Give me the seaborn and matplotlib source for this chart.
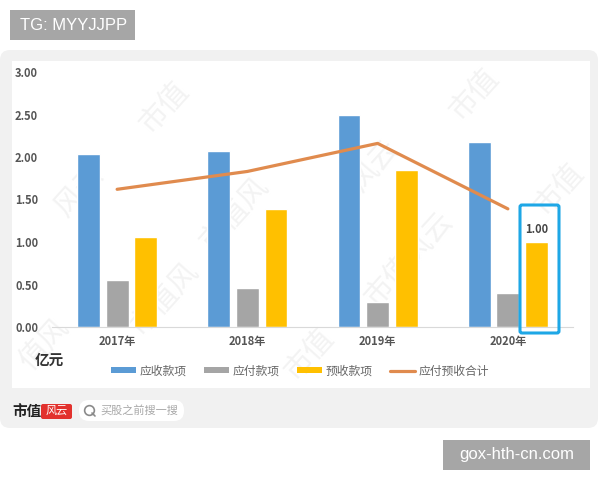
import numpy as np
import pandas as pd
import matplotlib
matplotlib.use('Agg')
import matplotlib.pyplot as plt
from matplotlib.patches import Rectangle, FancyBboxPatch
from matplotlib.lines import Line2D
import seaborn as sns

years = ['2017年', '2018年', '2019年', '2020年']
receivable = [2.03, 2.07, 2.49, 2.18]
payable = [0.55, 0.46, 0.30, 0.40]
advance = [1.06, 1.39, 1.85, 1.00]
total = [1.62, 1.83, 2.16, 1.39]
series_names = ['应收款项', '应付款项', '预收款项']
series_colors = ['#5b9bd5', '#a5a5a5', '#ffc000']
line_name = '应付预收合计'
line_color = '#e08b4e'
yticks = [0, 0.5, 1, 1.5, 2, 2.5, 3]

W, H = 600, 480

sns.set_style('white')
plt.rcParams['font.family'] = ['Noto Sans CJK SC', 'DejaVu Sans']

df = pd.DataFrame({'year': years * 3,
                   'kind': np.repeat(series_names, 4),
                   'value': receivable + payable + advance})

fig = plt.figure(figsize=(W / 100, H / 100), dpi=100, facecolor='white')

# pixel layer for the panel, tags and logo
bg = fig.add_axes([0, 0, 1, 1], zorder=0)
bg.set_xlim(0, W)
bg.set_ylim(H, 0)
bg.axis('off')
bg.add_patch(FancyBboxPatch((0, 50), 598, 378, boxstyle='round,pad=0,rounding_size=10',
                            fc='#f1f1f1', ec='none'))
bg.add_patch(Rectangle((12, 61), 578, 327, fc='white', ec='none'))
bg.add_patch(Rectangle((10, 10), 125, 30, fc='#a6a6a6', ec='none'))
bg.text(20, 25.5, 'TG: MYYJJPP', color='white', fontsize=12, va='center', family='Liberation Sans')
bg.add_patch(Rectangle((443, 440), 147, 30, fc='#a6a6a6', ec='none'))
bg.text(516.5, 455, 'gox-hth-cn.com', color='white', fontsize=12, va='center', ha='center',
        family='Liberation Sans')

# faint watermark
for x, y, txt in [(165, 108, '市值'), (235, 215, '市值风'), (375, 165, '风云'), (475, 95, '市值'),
                  (410, 260, '市值风云'), (80, 190, '风云'), (310, 355, '市值'), (560, 190, '市值'),
                  (165, 300, '市值风'), (45, 345, '值风')]:
    bg.text(x, y, txt, color='#f3f3f3', fontsize=21, rotation=48, ha='center', va='center')

# logo and search box
bg.text(12, 411, '市值', color='#222222', fontsize=10.5, fontweight='bold', va='center')
bg.add_patch(FancyBboxPatch((41, 404), 31, 15, boxstyle='round,pad=0,rounding_size=2',
                            fc='#e2312d', ec='none'))
bg.text(56.5, 411, '风云', color='white', fontsize=8, ha='center', va='center')
bg.add_patch(FancyBboxPatch((79, 400), 105, 21, boxstyle='round,pad=0,rounding_size=10',
                            fc='white', ec='none'))
bg.plot([89], [410], marker='o', ms=7, mfc='none', mec='#8a8a8a', mew=1.2)
bg.plot([92, 95], [413, 416], color='#8a8a8a', lw=1.2)
bg.text(100, 410.5, '买股之前搜一搜', color='#a8a8a8', fontsize=8, va='center')

# chart itself
ax = fig.add_axes([52 / W, 1 - 327 / H, 521 / W, 255 / H], zorder=2)
ax.patch.set_alpha(0)
sns.barplot(data=df, x='year', y='value', hue='kind', hue_order=series_names,
            palette=series_colors, width=0.66, gap=0.2, saturation=1, legend=False, ax=ax)
sns.lineplot(x=years, y=total, color=line_color, lw=2.3, ax=ax, sort=False)
ax.set_xlim(-0.5, 3.5)
ax.set_ylim(0, 3)
ax.set_yticks(yticks)
ax.set_yticklabels(['%.2f' % t for t in yticks], fontsize=8, color='#555555', fontweight='bold')
ax.tick_params(axis='y', length=0, pad=10)
ax.tick_params(axis='x', length=0, pad=6, labelsize=8, labelcolor='#555555')
for lab in ax.get_xticklabels():
    lab.set_fontweight('bold')
ax.set_xlabel('')
ax.set_ylabel('')
sns.despine(ax=ax, left=True)
ax.spines['bottom'].set_color('#d9d9d9')
ax.text(3.22, 1.15, '%.2f' % advance[3], fontsize=8, color='#444444', fontweight='bold',
        ha='center', va='center')

# highlight box and unit, on top of the bars
top = fig.add_axes([0, 0, 1, 1], zorder=3)
top.set_xlim(0, W)
top.set_ylim(H, 0)
top.axis('off')
top.patch.set_alpha(0)
top.add_patch(FancyBboxPatch((520, 205), 39, 128, boxstyle='round,pad=0,rounding_size=2',
                             fc='none', ec='#1ea7e6', lw=2.2))
top.text(35, 360, '亿元', fontsize=10.5, color='#333333', fontweight='bold', va='center')

handles = [Rectangle((0, 0), 1, 1, fc=c, ec='none') for c in series_colors]
handles.append(Line2D([0], [0], color=line_color, lw=2.3))
leg = fig.legend(handles, series_names + [line_name], loc='center', ncol=4, frameon=False,
                 bbox_to_anchor=(300 / W, 1 - 371 / H), fontsize=8.5, columnspacing=1.5,
                 handlelength=2.1, handleheight=0.45, handletextpad=0.3, labelcolor='#666666')

fig.savefig('out.png', dpi=100)
